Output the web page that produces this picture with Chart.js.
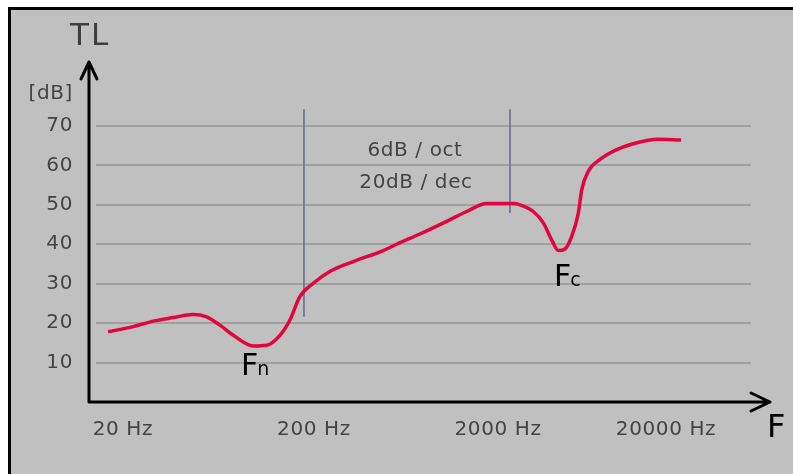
<!DOCTYPE html>
<html>
<head>
<meta charset="utf-8">
<script src="https://cdn.jsdelivr.net/npm/chart.js@4/dist/chart.umd.min.js"></script>
<style>
  html, body { margin: 0; padding: 0; background: #fff; }
  canvas { display: block; }
</style>
</head>
<body>
<canvas id="tl" width="793" height="474"></canvas>
<script>
  // transmission loss curve
  var freq = [22.4, 29.7, 37.1, 46.4, 58, 67.4, 78.2, 90.8, 113.5, 131.9, 152.9, 171, 191, 222, 267, 347, 485,
              585, 731, 986, 1233, 1541, 2075, 2237, 2596, 2903, 3187, 3433, 3698, 3987, 4293, 4458, 4800,
              5471, 6593, 8556, 10304, 13530];
  var tl   = [17.8, 19.1, 20.5, 21.4, 22.2, 21.6, 19.5, 16.9, 14.2, 14.4, 16.9, 20.8, 26.7, 30.1, 33.1, 35.6, 38.4,
              40.4, 42.6, 45.8, 48.3, 50.3, 50.3, 50.0, 48.3, 45.4, 41.1, 38.4, 38.8, 42.0, 47.9, 53.8, 58.5,
              61.5, 64.0, 65.9, 66.6, 66.4];

  // the two slope markers
  var markerFreq = [200, 2000];
  var markerLow  = [21.6, 47.9];
  var markerHigh = [74.2, 74.2];

  var yTicks = [10, 20, 30, 40, 50, 60, 70];
  var xTicks = [20, 200, 2000, 20000];
  var xTickLabels = ['20 Hz', '200 Hz', '2000 Hz', '20000 Hz'];

  var FONT = '"DejaVu Sans", Verdana, sans-serif';
  var GREY_TXT = '#444';

  var datasets = [{
    data: freq.map(function (f, i) { return { x: f, y: tl[i] }; }),
    borderColor: '#e0063f',
    borderWidth: 3.5,
    pointRadius: 0,
    cubicInterpolationMode: 'monotone',
    order: 0
  }];
  markerFreq.forEach(function (f, i) {
    datasets.push({
      data: [{ x: f, y: markerLow[i] }, { x: f, y: markerHigh[i] }],
      borderColor: '#646891',
      borderWidth: 1.5,
      pointRadius: 0,
      order: 1
    });
  });

  var decor = {
    id: 'decor',
    beforeDraw: function (chart) {
      var c = chart.ctx;
      c.save();
      c.fillStyle = '#fff';
      c.fillRect(0, 0, chart.width, chart.height);
      c.fillStyle = '#c0c0c0';
      c.fillRect(8, 7, chart.width - 8, chart.height - 7);
      c.fillStyle = '#000';
      c.fillRect(8, 7, chart.width - 8, 3);
      c.fillRect(8, 7, 3, chart.height - 7);
      c.restore();
    },
    beforeDatasetsDraw: function (chart) {
      var c = chart.ctx, a = chart.chartArea, y = chart.scales.y;
      c.save();
      c.strokeStyle = '#a0a0a0';
      c.lineWidth = 2;
      yTicks.forEach(function (v) {
        var py = Math.round(y.getPixelForValue(v));
        c.beginPath();
        c.moveTo(a.left + 7, py);
        c.lineTo(a.right, py);
        c.stroke();
      });
      c.restore();
    },
    afterDatasetsDraw: function (chart) {
      var c = chart.ctx, a = chart.chartArea, x = chart.scales.x, y = chart.scales.y;
      c.save();

      // axes with open arrows
      c.strokeStyle = '#000';
      c.lineWidth = 3;
      c.lineCap = 'round';
      c.lineJoin = 'round';
      var x0 = a.left, y0 = a.bottom;
      c.beginPath();
      c.moveTo(x0, y0); c.lineTo(x0, a.top);
      c.moveTo(x0 - 8, a.top + 17); c.lineTo(x0, a.top); c.lineTo(x0 + 8, a.top + 17);
      c.moveTo(x0, y0); c.lineTo(770, y0);
      c.moveTo(751, y0 - 9); c.lineTo(770, y0); c.lineTo(751, y0 + 9);
      c.stroke();

      c.letterSpacing = '0.6px';
      c.font = '20px ' + FONT;
      c.fillStyle = GREY_TXT;

      // y tick labels
      c.textAlign = 'right';
      c.textBaseline = 'middle';
      yTicks.forEach(function (v) {
        c.fillText(String(v), 73, y.getPixelForValue(v));
      });
      c.fillText('[dB]', 73, 94);

      // x tick labels (hand placed in the original, nudged off the decades)
      var nudge = [25, 10, -12, -50];
      c.textAlign = 'center';
      c.textBaseline = 'alphabetic';
      xTicks.forEach(function (v, i) {
        c.fillText(xTickLabels[i], x.getPixelForValue(v) + nudge[i], 435);
      });

      // slope note
      c.fillText('6dB / oct', 415, 156);
      c.fillText('20dB / dec', 416, 188);

      // axis titles
      c.letterSpacing = '2px';
      c.font = '31px ' + FONT;
      c.fillStyle = '#3e3e3e';
      c.textAlign = 'left';
      c.fillText('TL', 70, 45);
      c.letterSpacing = '0px';
      c.fillStyle = '#000';
      c.font = '32px ' + FONT;
      c.fillText('F', 767, 437);

      // Fn / Fc
      function fLabel(txt, sub, px, py) {
        c.font = '30px ' + FONT;
        c.fillText(txt, px, py);
        var w = c.measureText(txt).width;
        c.font = '19px ' + FONT;
        c.fillText(sub, px + w - 1, py);
      }
      fLabel('F', 'n', 241, 375);
      fLabel('F', 'c', 554, 286);

      c.restore();
    }
  };

  new Chart(document.getElementById('tl'), {
    type: 'line',
    data: { datasets: datasets },
    options: {
      responsive: false,
      animation: false,
      layout: { padding: { left: 89, top: 62, right: 42, bottom: 72 } },
      plugins: { legend: { display: false }, tooltip: { enabled: false } },
      scales: {
        x: { type: 'logarithmic', min: 18.1, max: 29570, display: false },
        y: { type: 'linear', min: 0, max: 86.2, display: false }
      }
    },
    plugins: [decor]
  });
</script>
</body>
</html>
